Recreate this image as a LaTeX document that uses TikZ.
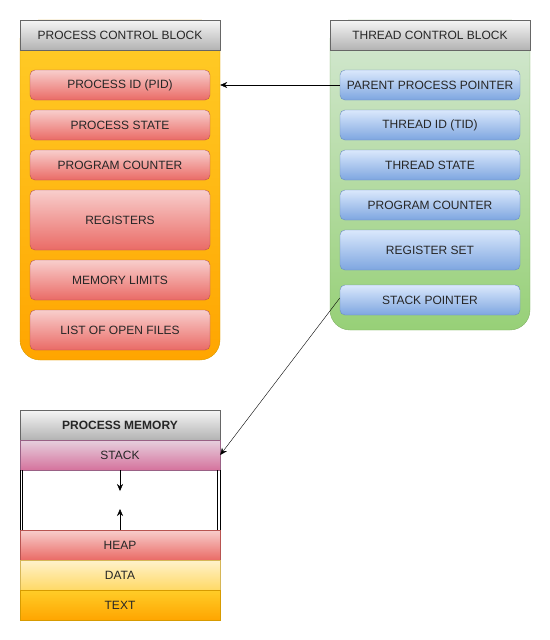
\documentclass[tikz,border=0pt]{standalone}
\usepackage{fontspec}
\setmainfont{Liberation Sans}
\usetikzlibrary{arrows.meta}

\definecolor{hdtop}{HTML}{F5F5F5}
\definecolor{hdbot}{HTML}{B3B3B3}
\definecolor{hdline}{HTML}{666666}
\definecolor{ortop}{HTML}{FFCD28}
\definecolor{orbot}{HTML}{FFA500}
\definecolor{orline}{HTML}{D79B00}
\definecolor{rdtop}{HTML}{F8CECC}
\definecolor{rdbot}{HTML}{EA6B66}
\definecolor{rdline}{HTML}{B85450}
\definecolor{grtop}{HTML}{D5E8D4}
\definecolor{grbot}{HTML}{97D077}
\definecolor{grline}{HTML}{82B366}
\definecolor{bltop}{HTML}{DAE8FC}
\definecolor{blbot}{HTML}{7EA6E0}
\definecolor{blline}{HTML}{6C8EBF}
\definecolor{pktop}{HTML}{E6D0DE}
\definecolor{pkbot}{HTML}{D5739D}
\definecolor{pkline}{HTML}{996185}
\definecolor{yltop}{HTML}{FFF2CC}
\definecolor{ylbot}{HTML}{FFD966}
\definecolor{ylline}{HTML}{D6B656}

\tikzset{
  box/.style={inner sep=0pt,minimum width=180,font=\fontsize{12}{14}\selectfont,text=black!85},
  header/.style={box,minimum width=200,minimum height=30,draw=hdline,top color=hdtop,bottom color=hdbot},
  redbox/.style={box,draw=rdline,top color=rdtop,bottom color=rdbot,rounded corners=5},
  bluebox/.style={box,draw=blline,top color=bltop,bottom color=blbot,rounded corners=5},
  membox/.style={box,minimum width=200,minimum height=30},
  arr/.style={-{Stealth[length=7,width=6]},black,thin}
}

\begin{document}
\begin{tikzpicture}[x=1pt,y=-1pt]
      \useasboundingbox (0,0) rectangle (549,640);
      % process control block
      \node[draw=orline,top color=ortop,bottom color=orbot,rounded corners=20,
            minimum width=200,minimum height=340,inner sep=0pt] (pcb) at (120,190) {};
      \node[header] (pcbhead) at (120,35) {PROCESS CONTROL BLOCK};
      \node[redbox,minimum height=30] (pid) at (120,85) {PROCESS ID (PID)};
      \node[redbox,minimum height=30] (pstate) at (120,125) {PROCESS STATE};
      \node[redbox,minimum height=30] (pc) at (120,165) {PROGRAM COUNTER};
      \node[redbox,minimum height=60] (regs) at (120,220) {REGISTERS};
      \node[redbox,minimum height=40] (memlim) at (120,280) {MEMORY LIMITS};
      \node[redbox,minimum height=40] (files) at (120,330) {LIST OF OPEN FILES};
      % thread control block
      \node[draw=grline,top color=grtop,bottom color=grbot,rounded corners=20,
            minimum width=200,minimum height=310,inner sep=0pt] (tcb) at (430,175) {};
      \node[header] (tcbhead) at (430,35) {THREAD CONTROL BLOCK};
      \node[bluebox,minimum height=30] (ppp) at (430,85) {PARENT PROCESS POINTER};
      \node[bluebox,minimum height=30] (tid) at (430,125) {THREAD ID (TID)};
      \node[bluebox,minimum height=30] (tstate) at (430,165) {THREAD STATE};
      \node[bluebox,minimum height=30] (tpc) at (430,205) {PROGRAM COUNTER};
      \node[bluebox,minimum height=40] (regset) at (430,250) {REGISTER SET};
      \node[bluebox,minimum height=30] (sp) at (430,300) {STACK POINTER};
      % process memory
      \node[header,font=\fontsize{12}{14}\selectfont\bfseries] (memhead) at (120,425) {PROCESS MEMORY};
      \node[membox,draw=pkline,top color=pktop,bottom color=pkbot] (stack) at (120,455) {STACK};
      \draw (20,470) -- (20,530) (22.5,470) -- (22.5,530);
      \draw (217.5,470) -- (217.5,530) (220,470) -- (220,530);
      \node[membox,draw=rdline,top color=rdtop,bottom color=rdbot] (heap) at (120,545) {HEAP};
      \node[membox,draw=ylline,top color=yltop,bottom color=ylbot] (data) at (120,575) {DATA};
      \node[membox,draw=orline,top color=ortop,bottom color=orbot] (text) at (120,605) {TEXT};
      \coordinate (down) at (120,491);
      \coordinate (up) at (120,509);
      % connectors
      \draw[arr] (ppp.west) -- (ppp.west -| pcb.east);
      \draw[arr] ([yshift=2]sp.west) -- (stack.east);
      \draw[arr] (stack.south) -- (down);
      \draw[arr] (heap.north) -- (up);
\end{tikzpicture}
\end{document}
